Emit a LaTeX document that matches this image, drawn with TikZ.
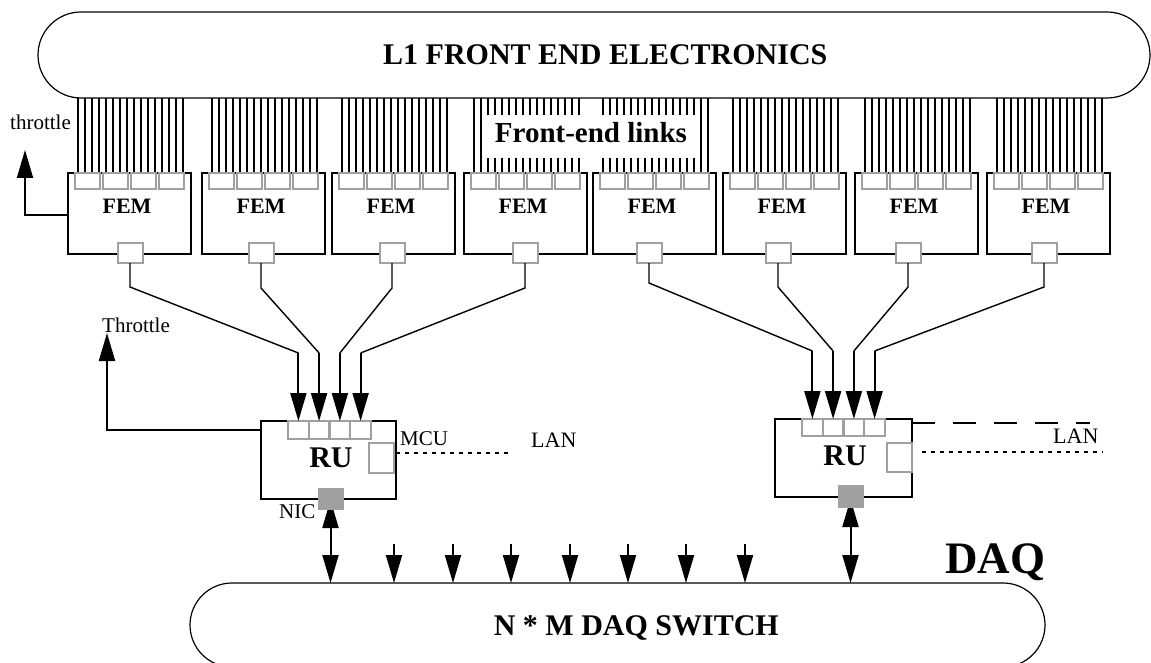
\documentclass[tikz,border=0pt]{standalone}
\usepackage{fontspec}
\setmainfont{Liberation Serif}
\usetikzlibrary{arrows.meta,calc}
\definecolor{portgray}{RGB}{160,160,160}
\begin{document}
\begin{tikzpicture}[x=1pt,y=-1pt,
  box/.style={draw, line width=2pt, inner sep=0pt, outer sep=0pt},
  port/.style={draw=portgray, fill=white, line width=2pt, inner sep=0pt, outer sep=0pt},
  nicbox/.style={fill=portgray, draw=portgray, line width=1pt, inner sep=0pt, outer sep=0pt, minimum width=25pt, minimum height=21pt},
  link/.style={line width=2pt},
  feed/.style={line width=1.4pt},
  arr/.style={line width=2pt, -{Triangle[length=28pt,width=16pt]}},
  darr/.style={line width=2pt, {Triangle[length=28pt,width=16pt]}-{Triangle[length=28pt,width=16pt]}},
  pill/.style={draw, line width=1.2pt, inner sep=0pt, outer sep=0pt},
  big/.style={font=\fontsize{30}{34}\selectfont\bfseries, inner sep=0pt},
  femlabel/.style={font=\fontsize{22}{26}\selectfont\bfseries, inner sep=0pt},
  small/.style={font=\fontsize{21}{24}\selectfont, inner sep=0pt},
]
\useasboundingbox (0,0) rectangle (1151,663);

% pills
\node[pill, minimum width=1112pt, minimum height=86pt, rounded corners=43pt] (l1) at (594,55) {};
\node[big, anchor=base west] (l1t) at (383,65) {L1 FRONT END ELECTRONICS};
\node[pill, minimum width=855pt, minimum height=84pt, rounded corners=42pt] (sw) at (617.5,625) {};
\node[big, anchor=base east] (swt) at (779,635) {N * M DAQ SWITCH};
\node[font=\fontsize{45}{50}\selectfont\bfseries, inner sep=0pt, anchor=base west] (daq) at (945,573) {DAQ};

% front-end links
\foreach \i/\L in {1/68,2/202,3/332,4/464,5/593,6/723,7/855,8/987} {
  \foreach \m in {0,...,15} {
    \draw[link] ({\L+10+7*\m},98) -- ({\L+10+7*\m},173);
  }
}
\node[fill=white, inner sep=0pt, minimum width=215pt, minimum height=43pt] (felbox) at (589.5,136.5) {};
\node[font=\fontsize{29}{33}\selectfont\bfseries, inner sep=0pt, anchor=base] (fel) at (591,143) {Front-end links};

% FEMs
\foreach \i/\L/\p in {1/68/130,2/202/261,3/332/392,4/464/525,5/593/649,6/723/778,7/855/908,8/987/1044} {
  \node[box, minimum width=123pt, minimum height=81pt] (fem\i) at ({\L+61.5},213.5) {};
  \foreach \k in {0,...,3} {
    \node[port, minimum width=25pt, minimum height=16pt] (fp\i\k) at ({\L+19.5+28*\k},181) {};
  }
  \node[port, minimum width=25pt, minimum height=20pt] (p\i) at (\p,253) {};
  \node[femlabel, anchor=base] (femt\i) at ({\L+59},214) {FEM};
}

% RU left
\node[box, minimum width=135pt, minimum height=78pt] (ru1) at (328.5,460) {};
\foreach \k/\x in {0/298.4,1/319.1,2/339.9,3/360.6} {
  \node[port, minimum width=20.75pt, minimum height=18pt] (ra\k) at (\x,430) {};
}
\node[port, minimum width=25pt, minimum height=30pt] (mcu1) at (381.5,458) {};
\node[big, anchor=base] (rut1) at (331,467) {RU};
\node[small, anchor=base west] (mcut) at (400,445) {MCU};
\node[small, anchor=base west, font=\fontsize{22}{25}\selectfont] (lant1) at (531,447) {LAN};
\node[small, anchor=base west] (nict) at (279,518) {NIC};

% RU right
\node[box, minimum width=137pt, minimum height=78pt] (ru2) at (843.5,458) {};
\foreach \k/\x in {0/812.4,1/833.1,2/853.9,3/874.6} {
  \node[port, minimum width=20.75pt, minimum height=17pt] (rb\k) at (\x,427.5) {};
}
\node[port, minimum width=25pt, minimum height=29pt] (mcu2) at (899.5,457.5) {};
\node[big, anchor=base] (rut2) at (845,465) {RU};
\node[small, anchor=base west, font=\fontsize{22}{25}\selectfont] (lant2) at (1053,443) {LAN};

% FEM -> RU
\foreach \i/\k/\by in {1/0/287,2/1/288,3/2/288,4/3/288} {
  \draw[feed] (p\i.south) -- (p\i.south |- 0,\by) -- (ra\k.north |- 0,353);
  \draw[arr] (ra\k.north |- 0,353) -- (ra\k.north);
}
\foreach \i/\k/\by in {5/0/283,6/1/287,7/2/287,8/3/287} {
  \draw[feed] (p\i.south) -- (p\i.south |- 0,\by) -- (rb\k.north |- 0,351);
  \draw[arr] (rb\k.north |- 0,351) -- (rb\k.north);
}

% throttles
\coordinate (thrA) at (25,150);
\draw[arr] (fem1.west |- 0,215) -| (thrA);
\node[small, anchor=base west] (thrAt) at (10,130) {throttle};
\coordinate (thrB) at (107,333);
\draw[arr] (ru1.west |- 0,430) -| (thrB);
\node[small, anchor=base west] (thrBt) at (102,332) {Throttle};

% LAN lines
\coordinate (lanA) at (512,453);
\draw[line width=1.3pt, dash pattern=on 4pt off 5pt] (ru1.east |- 0,453) -- (lanA);
\coordinate (lanB) at (1103,452);
\draw[line width=1.3pt, dash pattern=on 4pt off 5pt] (ru2.east |- 0,452) ++(10,0) -- (lanB);
\coordinate (lanC) at (1090,423);
\draw[line width=1.5pt, dash pattern=on 23pt off 18pt] (ru2.north east |- 0,423) -- (lanC);

% NIC double arrows
\coordinate (nicA) at (330.5,500);
\draw[darr] (nicA) -- (nicA |- sw.north);
\node[nicbox] (nic1) at (330.5,498.5) {};
\coordinate (nicB) at (850.5,499);
\draw[darr] (nicB) -- (nicB |- sw.north);
\node[nicbox, minimum height=22pt] (nic2) at (850.5,496) {};

% arrows into switch
\foreach \x in {394,453,511,570,628,686,745} {
  \draw[arr] (\x,544) -- (\x,583);
}
\end{tikzpicture}
\end{document}
